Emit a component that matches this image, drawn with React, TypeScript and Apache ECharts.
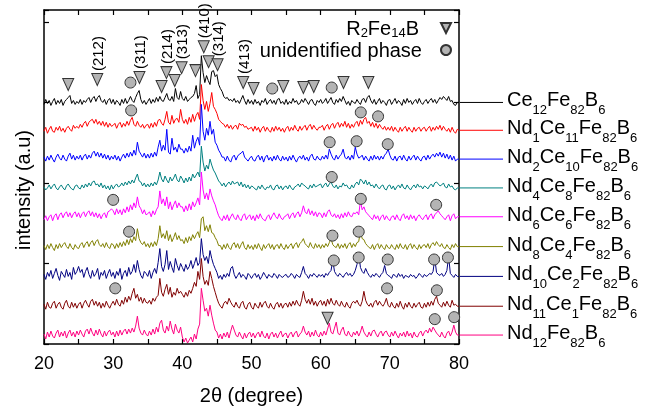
import React, { useEffect, useRef } from 'react';
import * as echarts from 'echarts';

// x grid of the diffraction patterns: 2θ from 20° in 0.25° steps (241 points)
const START_2THETA = 20;
const STEP_2THETA = 0.25;

const FONT = 'Liberation Sans, Arial, Helvetica, sans-serif';

const sampleNames = [
  'Ce12Fe82B6', 'Nd1Ce11Fe82B6', 'Nd2Ce10Fe82B6', 'Nd4Ce8Fe82B6', 'Nd6Ce6Fe82B6',
  'Nd8Ce4Fe82B6', 'Nd10Ce2Fe82B6', 'Nd11Ce1Fe82B6', 'Nd12Fe82B6',
];
const sampleParts: [string, string][][] = [
  [['Ce', '12'], ['Fe', '82'], ['B', '6']],
  [['Nd', '1'], ['Ce', '11'], ['Fe', '82'], ['B', '6']],
  [['Nd', '2'], ['Ce', '10'], ['Fe', '82'], ['B', '6']],
  [['Nd', '4'], ['Ce', '8'], ['Fe', '82'], ['B', '6']],
  [['Nd', '6'], ['Ce', '6'], ['Fe', '82'], ['B', '6']],
  [['Nd', '8'], ['Ce', '4'], ['Fe', '82'], ['B', '6']],
  [['Nd', '10'], ['Ce', '2'], ['Fe', '82'], ['B', '6']],
  [['Nd', '11'], ['Ce', '1'], ['Fe', '82'], ['B', '6']],
  [['Nd', '12'], ['Fe', '82'], ['B', '6']],
];
const sampleColors = ['#000000', '#ff0000', '#0000ff', '#008080', '#ff00ff', '#808000', '#000080', '#800000', '#ff0080'];
// vertical offsets of the stacked patterns (a.u.)
const offsets = [243, 215, 186, 157, 128, 98, 68, 38, 9];

// intensities relative to each pattern's baseline (a.u.)
const ce12 = [
  -2,3,-1,2,-3,1,4,-2,2,-1,3,-3,1,3,5,7,-1,2,-2,1,
  -1,3,-2,2,0,3,5,0,4,6,1,5,7,2,0,3,-2,2,4,-1,
  3,-2,2,0,-3,3,-1,4,-1,2,6,2,0,5,9,12,3,-1,2,-2,
  1,4,-1,3,0,5,1,6,2,1,5,9,3,2,6,1,14,5,3,11,
  4,2,6,1,3,5,6,9,17,4,8,47,30,20,27,22,18,31,32,26,
  28,18,14,11,6,4,5,2,3,1,4,0,2,-1,3,7,2,-2,3,-1,
  2,-2,3,-1,1,-3,2,0,4,-2,1,3,-1,2,-2,3,4,-1,1,-2,
  3,-2,1,-1,4,0,2,-2,-1,3,0,4,1,-2,2,3,-1,-3,2,0,
  3,-1,1,4,-1,2,5,0,-2,3,0,4,1,6,2,-2,1,-3,2,0,
  -1,3,0,-2,3,4,0,5,7,2,-1,3,-2,1,4,-1,2,0,-3,2,
  3,-2,1,4,-1,2,0,-3,3,-1,4,0,2,-2,1,3,-1,4,0,-2,
  1,3,-1,2,4,0,3,-1,2,5,3,6,4,2,6,1,2,-2,-3,0,
  0,
];
const nd1 = [
  -1,3,-3,1,4,-1,-2,3,0,4,-1,2,-2,2,4,1,-1,5,2,4,
  2,6,3,7,9,4,8,10,11,7,11,6,9,5,9,4,8,3,7,4,
  5,7,2,6,8,3,7,4,9,5,10,13,6,4,9,5,3,6,2,5,
  6,2,7,3,8,4,10,11,7,5,11,19,8,6,15,7,11,12,8,21,
  11,7,11,6,13,8,16,9,15,18,11,46,30,21,29,19,27,38,24,21,
  17,11,9,7,6,3,6,2,5,1,4,5,1,7,5,6,3,4,1,2,
  3,-1,4,0,3,-2,2,4,-1,3,0,-2,3,-1,4,0,3,-1,2,-2,
  2,4,-1,3,0,5,1,-1,4,0,3,5,0,4,6,1,5,2,0,3,
  3,5,0,4,6,1,5,7,2,6,8,3,7,4,9,3,7,2,6,3,
  7,9,4,10,6,11,13,7,9,4,8,3,7,2,6,3,1,4,0,3,
  0,4,-1,3,0,-2,3,-1,2,4,-1,3,0,-2,3,-1,2,3,-1,2,
  3,-1,2,4,-1,3,0,4,1,5,0,4,1,-1,2,-2,3,-1,-3,1,
  0,
];
const nd2 = [
  2,-2,3,-1,4,0,-3,2,5,1,-1,4,0,-2,3,6,0,4,-1,3,
  0,4,-1,3,5,0,4,1,6,8,3,7,2,6,1,5,0,4,-1,3,
  0,4,-1,3,-2,2,5,1,6,2,7,3,9,4,17,8,5,2,6,1,
  5,1,6,2,7,3,12,19,8,14,9,30,7,5,21,9,12,7,15,10,
  10,6,11,7,13,8,24,11,18,22,14,55,28,19,31,24,38,25,30,17,
  14,9,6,2,2,-2,3,-1,-3,2,4,-1,3,5,6,8,2,0,-2,1,
  3,-1,-2,2,4,-1,3,-3,2,4,-1,2,-2,3,-1,4,0,-2,3,-1,
  2,-2,3,-1,4,0,-3,1,3,0,4,-1,2,-2,3,5,0,-1,3,0,
  -1,3,0,4,0,10,5,1,-1,4,0,3,5,10,2,0,3,-1,4,0,
  12,5,1,2,4,-1,3,0,-2,3,-1,4,0,3,-1,3,0,4,6,10,
  4,0,-1,3,-2,2,3,-1,4,0,-2,3,-1,2,4,-1,3,0,-2,2,
  3,-1,4,0,3,5,2,6,3,7,2,6,1,5,0,4,-1,3,-2,0,
  0,
];
const nd4 = [
  1,-2,0,3,-1,2,4,0,-2,1,3,0,-2,2,4,1,-1,-2,2,3,
  0,-1,3,0,4,1,5,2,6,7,3,4,1,5,0,3,-1,2,-2,3,
  -1,2,4,1,2,5,2,6,3,7,4,8,5,10,14,7,6,2,5,1,
  4,1,5,2,6,3,8,16,9,6,12,8,5,11,7,10,14,8,6,12,
  9,5,10,6,11,7,14,10,13,16,11,42,26,17,23,19,29,23,18,15,
  11,7,5,2,5,1,4,6,3,7,4,5,6,2,6,1,4,0,3,-1,
  2,1,-1,-2,2,-1,3,0,-2,1,0,3,-1,-2,2,3,-1,2,-2,1,
  2,-1,3,0,-2,1,2,4,1,5,3,2,0,-1,3,0,4,1,2,3,
  4,0,3,5,1,4,6,2,0,3,-1,2,1,5,2,3,0,-1,3,0,
  4,6,3,9,7,4,8,3,6,2,3,0,4,1,-1,2,3,-1,-2,2,
  3,-1,2,-2,1,3,0,4,0,-1,3,0,-2,1,3,0,4,1,2,-1,
  2,1,-1,2,4,1,5,6,4,2,3,5,1,0,4,1,2,-1,-2,0,
  0,
];
const nd6 = [
  -3,1,-4,0,2,-4,1,3,-3,2,4,-1,3,5,0,4,-1,3,5,0,
  4,-1,3,5,0,4,6,1,5,0,4,-1,3,-2,2,4,-1,5,6,8,
  6,2,8,3,7,2,8,4,10,5,12,7,14,9,20,11,8,3,7,2,
  3,5,0,6,2,7,10,26,13,18,11,20,8,15,7,12,16,9,14,10,
  10,5,11,6,13,7,15,10,14,19,12,45,27,18,24,17,28,21,16,12,
  6,1,-2,-4,1,-3,2,-4,0,3,-1,-3,2,-2,-4,1,3,-3,0,2,
  -3,1,-4,2,-2,3,-1,-3,-4,0,2,-3,1,4,0,-2,3,-1,-3,0,
  1,3,-2,2,4,-1,3,5,0,4,11,5,3,8,2,6,1,5,0,4,
  3,-1,4,0,5,7,2,0,3,-1,2,-2,3,-1,4,0,5,1,0,4,
  3,5,2,16,7,10,5,3,1,-1,-3,2,-2,1,-4,0,2,-3,1,-2,
  -4,0,1,-3,2,-2,-4,1,3,-2,1,-3,2,-2,1,-4,0,2,-1,-3,
  0,2,-3,1,3,-2,2,4,6,3,1,-1,-3,0,2,-4,1,3,-2,0,
  0,
];
const nd8 = [
  1,-3,2,-2,3,-1,-4,2,-2,3,-1,2,4,0,-2,3,-1,-3,2,-1,
  -2,2,4,-1,3,5,0,4,6,1,5,7,2,0,3,-1,4,0,-2,3,
  2,-2,3,-1,4,0,5,1,7,2,8,4,10,6,18,8,4,2,5,0,
  3,-1,4,0,5,1,8,21,9,13,8,16,6,12,5,9,14,7,11,6,
  7,3,9,4,10,6,12,8,12,15,9,28,30,16,21,15,22,14,13,9,
  6,1,1,-3,2,-2,3,-1,-3,2,4,-1,3,-2,2,5,-1,-3,2,-2,
  1,-3,2,-2,3,-1,-4,2,-2,1,3,-2,2,-3,1,2,-2,3,-1,-3,
  2,-2,1,3,-2,2,4,-1,3,5,8,3,1,-1,4,0,-2,3,-1,2,
  -2,2,-1,3,0,4,8,2,0,-1,3,-2,2,-1,3,-2,2,4,-1,3,
  0,4,5,16,8,7,3,1,-1,-2,2,-3,1,3,-2,2,-1,-3,2,-1,
  -2,2,-1,-3,2,-2,3,-1,-2,2,-3,1,3,-2,2,-1,-3,2,-2,1,
  2,-1,3,-2,2,4,1,5,2,0,3,-1,-2,2,-1,-3,2,-1,3,0,
  0,
];
const nd10 = [
  2,-3,4,0,6,-2,3,8,1,-4,5,2,-1,7,0,4,-3,9,2,5,
  10,4,7,-1,5,9,2,-2,6,0,3,8,-3,4,1,6,-2,3,7,0,
  4,-2,5,1,8,-3,3,6,0,9,2,5,12,4,16,7,1,-2,5,3,
  0,6,-2,4,8,3,14,28,10,5,12,26,7,15,9,4,18,11,6,13,
  9,5,12,7,10,16,8,13,19,11,14,38,22,16,20,13,26,18,12,8,
  4,-2,1,-3,2,-1,3,0,8,10,2,-2,1,4,-1,2,0,-3,3,1,
  -2,1,3,-1,2,-3,0,4,1,-2,2,0,-1,3,1,-2,2,0,-1,1,
  2,-1,0,3,1,-2,2,0,-1,4,10,3,1,-2,2,0,3,1,-1,2,
  0,2,-1,3,1,4,6,16,5,2,0,3,1,-1,2,4,1,3,0,2,
  6,12,23,9,5,3,8,4,1,-1,2,0,3,1,-1,2,4,11,3,1,
  0,-2,2,1,-1,3,0,2,-2,1,0,-1,2,0,1,-2,0,3,1,-1,
  2,0,1,3,2,5,18,4,2,1,3,0,2,6,20,3,1,-1,2,0,
  0,
];
const nd11 = [
  2,-3,4,-1,-2,3,5,-2,2,4,-1,-3,3,6,0,-2,4,-1,3,-2,
  2,4,-2,3,6,2,-1,5,7,1,5,0,4,-2,3,-1,5,1,-2,2,
  5,1,7,2,0,6,2,9,4,10,6,13,18,8,12,5,9,3,8,4,
  3,6,2,8,5,9,11,28,14,10,17,22,12,19,9,14,11,18,13,15,
  12,9,14,10,16,13,18,24,20,35,27,48,30,22,26,21,35,28,20,14,
  8,3,0,-2,3,5,2,8,4,1,-1,4,0,-2,3,5,-1,-3,2,4,
  -1,-3,3,0,-2,4,-1,3,5,0,-2,3,-1,-3,2,4,-1,3,-2,2,
  3,-1,4,0,5,1,6,2,0,6,15,7,3,7,2,8,1,5,0,4,
  6,1,5,0,7,2,8,3,1,6,2,0,5,1,-1,4,0,-2,3,5,
  3,6,2,0,5,15,6,2,0,3,-1,4,6,1,5,2,0,3,8,1,
  -1,4,0,-2,3,-1,5,0,-3,3,-1,4,0,-2,3,-1,2,4,-1,-2,
  3,-1,4,0,5,1,7,10,3,1,-1,4,0,5,1,-1,6,1,2,0,
  0,
];
const nd12 = [
  1,-4,3,-2,4,-1,-3,2,5,-2,3,-1,4,-3,2,5,-1,3,-2,4,
  0,5,1,-2,4,6,1,7,2,-1,5,0,6,1,-2,4,-1,3,5,0,
  3,-2,4,-1,5,0,4,6,1,6,2,7,3,9,19,7,2,0,5,1,
  -1,4,0,6,1,8,3,12,15,5,2,9,4,14,6,1,11,5,2,8,
  -2,-7,-3,-8,-5,-2,-7,1,-4,6,11,47,35,24,27,19,30,20,12,5,
  3,-3,1,-4,2,-2,3,-3,4,10,5,0,-2,3,-1,-4,2,-3,1,3,
  -2,2,-3,1,3,-2,4,-1,-3,2,-4,1,3,-2,2,-3,1,4,-2,1,
  2,-3,1,3,-2,2,4,-2,1,3,9,3,0,4,-2,3,-1,5,0,-2,
  3,-1,4,0,6,12,3,1,7,13,2,0,5,8,1,-1,4,0,-2,3,
  0,4,-1,3,9,3,0,-2,3,-1,4,5,1,-2,2,4,-1,3,4,0,
  -2,3,-1,4,0,-3,2,-1,3,-2,4,-1,2,-3,3,-1,-2,2,4,-1,
  3,5,2,7,3,8,5,2,0,-2,3,-1,-3,2,4,-1,3,10,3,0,
  0,
];
const patterns = [ce12, nd1, nd2, nd4, nd6, nd8, nd10, nd11, nd12];

// R2Fe14B reflections (down triangles)
const triTheta = [23.5, 27.7, 33.8, 37.0, 37.7, 38.9, 39.9, 41.9, 43.1, 43.8, 45.1, 48.8, 50.3, 54.6, 57.5, 59.0, 63.3, 66.9, 61.0];
const triY = [261, 266, 268, 259, 273, 265, 278, 275, 299, 284, 281, 263, 257, 259, 258, 259, 263, 263, 26];
const triHkl = ['', '(212)', '(311)', '', '(214)', '', '(313)', '', '(410)', '', '(314)', '(413)', '', '', '', '', '', '', ''];

// unidentified phase (circles)
const cirTheta = [32.5, 32.6, 53.0, 61.6, 65.8, 68.3, 61.3, 65.2, 69.7, 61.6, 30.0, 65.8, 76.7, 32.3, 61.7, 65.5, 61.9, 65.5, 69.7, 76.4, 78.4, 30.3, 69.6, 76.8, 76.5, 79.3];
const cirY = [263, 235, 257, 258, 233, 229, 203, 204, 201, 168, 145, 146, 140, 113, 109, 113, 84, 87, 85, 85, 87, 56, 56, 54, 25, 27];

const TRI_NAME = 'R2Fe14B';
const CIR_NAME = 'unidentified phase';

const richRight = {
  m: { fontSize: 20, lineHeight: 20, verticalAlign: 'top', fontFamily: FONT, fill: '#000', color: '#000' },
  s: { fontSize: 13, lineHeight: 13, verticalAlign: 'top', padding: [14, 0, 0, 0], fontFamily: FONT, fill: '#000', color: '#000' },
};

function App() {
  const ref = useRef<HTMLDivElement>(null);
  useEffect(() => {
    if (!ref.current) return;
    const chart = echarts.init(ref.current, null, { renderer: 'svg' });

    const lineSeries = patterns.map((vals, k) => ({
      name: sampleNames[k],
      type: 'line',
      symbol: 'none',
      showSymbol: false,
      xAxisIndex: 0,
      yAxisIndex: 0,
      lineStyle: { color: sampleColors[k], width: 1 },
      itemStyle: { color: sampleColors[k] },
      data: vals.map((v, i) => [START_2THETA + STEP_2THETA * i, v + offsets[k]]),
      z: 2,
    }));

    const option: any = {
      animation: false,
      textStyle: { fontFamily: FONT },
      grid: { left: 44, right: 192, top: 10, bottom: 64 },
      legend: {
        orient: 'vertical',
        right: 199,
        top: 18,
        align: 'right',
        itemWidth: 10,
        itemHeight: 10,
        itemGap: 1,
        padding: 0,
        selectedMode: false,
        data: [
          { name: TRI_NAME, icon: 'path://M0,0L10,0L5,10Z' },
          { name: CIR_NAME, icon: 'circle' },
        ],
        formatter: (name: string) =>
          name === TRI_NAME ? '{a|R}{s|2}{a|Fe}{s|14}{e1|B}' : '{e2|unidentified phase}',
        textStyle: {
          color: '#000',
          fontFamily: FONT,
          rich: {
            a: { fontSize: 20, lineHeight: 20, verticalAlign: 'top', color: '#000', fontFamily: FONT },
            s: { fontSize: 13, lineHeight: 13, verticalAlign: 'top', padding: [8, 0, 0, 0], color: '#000', fontFamily: FONT },
            e1: { fontSize: 20, lineHeight: 20, verticalAlign: 'top', padding: [0, 17, 0, 0], color: '#000', fontFamily: FONT },
            e2: { fontSize: 20, lineHeight: 20, verticalAlign: 'top', padding: [0, 14, 0, 0], color: '#000', fontFamily: FONT },
          },
        },
      },
      xAxis: [
        {
          type: 'value', min: 20, max: 80, interval: 10, position: 'bottom',
          axisLine: { onZero: false, lineStyle: { color: '#000', width: 1.5 } },
          axisTick: { inside: true, length: 5, lineStyle: { color: '#000', width: 1.2 } },
          minorTick: { show: true, splitNumber: 2, length: 5, lineStyle: { color: '#000', width: 1.2 } },
          axisLabel: { fontSize: 18, color: '#000', margin: 10, fontFamily: FONT },
          splitLine: { show: false },
          name: '2θ (degree)', nameLocation: 'middle', nameGap: 41,
          nameTextStyle: { fontSize: 20, color: '#000', fontFamily: FONT },
        },
        {
          type: 'value', min: 20, max: 80, interval: 10, position: 'top',
          axisLine: { onZero: false, lineStyle: { color: '#000', width: 1.5 } },
          axisTick: { inside: true, length: 5, lineStyle: { color: '#000', width: 1.2 } },
          minorTick: { show: true, splitNumber: 2, length: 5, lineStyle: { color: '#000', width: 1.2 } },
          axisLabel: { show: false },
          splitLine: { show: false },
        },
      ],
      yAxis: [
        {
          type: 'value', min: 0, max: 336, interval: 81, position: 'left',
          axisLine: { show: true, onZero: false, lineStyle: { color: '#000', width: 1.5 } },
          axisTick: { show: true, inside: true, length: 5, lineStyle: { color: '#000', width: 1.2 } },
          axisLabel: { show: false },
          splitLine: { show: false },
          name: 'intensity (a.u)', nameLocation: 'middle', nameGap: 11,
          nameTextStyle: { fontSize: 20, color: '#000', fontFamily: FONT, padding: [0, 26, 0, 0] },
        },
        {
          type: 'value', min: 0, max: 336, interval: 81, position: 'right',
          axisLine: { show: true, onZero: false, lineStyle: { color: '#000', width: 1.5 } },
          axisTick: { show: true, inside: true, length: 5, lineStyle: { color: '#000', width: 1.2 } },
          axisLabel: { show: false },
          splitLine: { show: false },
        },
      ],
      series: [
        ...lineSeries,
        {
          name: TRI_NAME,
          type: 'scatter',
          symbol: 'triangle',
          symbolRotate: 180,
          symbolSize: [11, 12],
          itemStyle: { color: '#b4b4b4', borderColor: '#333', borderWidth: 1, opacity: 1 },
          data: triTheta.map((t, i) => [t, triY[i]]),
          label: {
            show: true,
            position: 'top',
            rotate: 90,
            align: 'left',
            verticalAlign: 'middle',
            distance: 2,
            fontSize: 15,
            color: '#000',
            fontFamily: FONT,
            formatter: (p: any) => triHkl[p.dataIndex],
          },
          z: 5,
        },
        {
          name: CIR_NAME,
          type: 'scatter',
          symbol: 'circle',
          symbolSize: 11,
          itemStyle: { color: '#b4b4b4', borderColor: '#333', borderWidth: 1, opacity: 1 },
          data: cirTheta.map((t, i) => [t, cirY[i]]),
          z: 5,
        },
      ],
    };
    chart.setOption(option);

    // right-hand sample labels tied to each pattern's baseline
    const graphics: any[] = [];
    offsets.forEach((off, k) => {
      const p = chart.convertToPixel({ xAxisIndex: 0, yAxisIndex: 0 }, [80, off]) as number[];
      graphics.push({
        type: 'line',
        shape: { x1: p[0] + 1, y1: p[1], x2: p[0] + 44, y2: p[1] },
        style: { stroke: sampleColors[k], lineWidth: 1 },
        silent: true,
      });
      const txt = sampleParts[k].map(([a, b]) => `{m|${a}}{s|${b}}`).join('');
      graphics.push({
        type: 'text',
        x: p[0] + 48,
        y: p[1] - 13,
        style: { text: txt, rich: richRight, align: 'left', verticalAlign: 'top', fill: '#000' },
        silent: true,
      });
    });
    chart.setOption({ graphic: graphics });

    return () => chart.dispose();
  }, []);
  return <div ref={ref} style={{ position: 'fixed', left: 0, top: 0, width: 651, height: 410 }} />;
}

export default App;
